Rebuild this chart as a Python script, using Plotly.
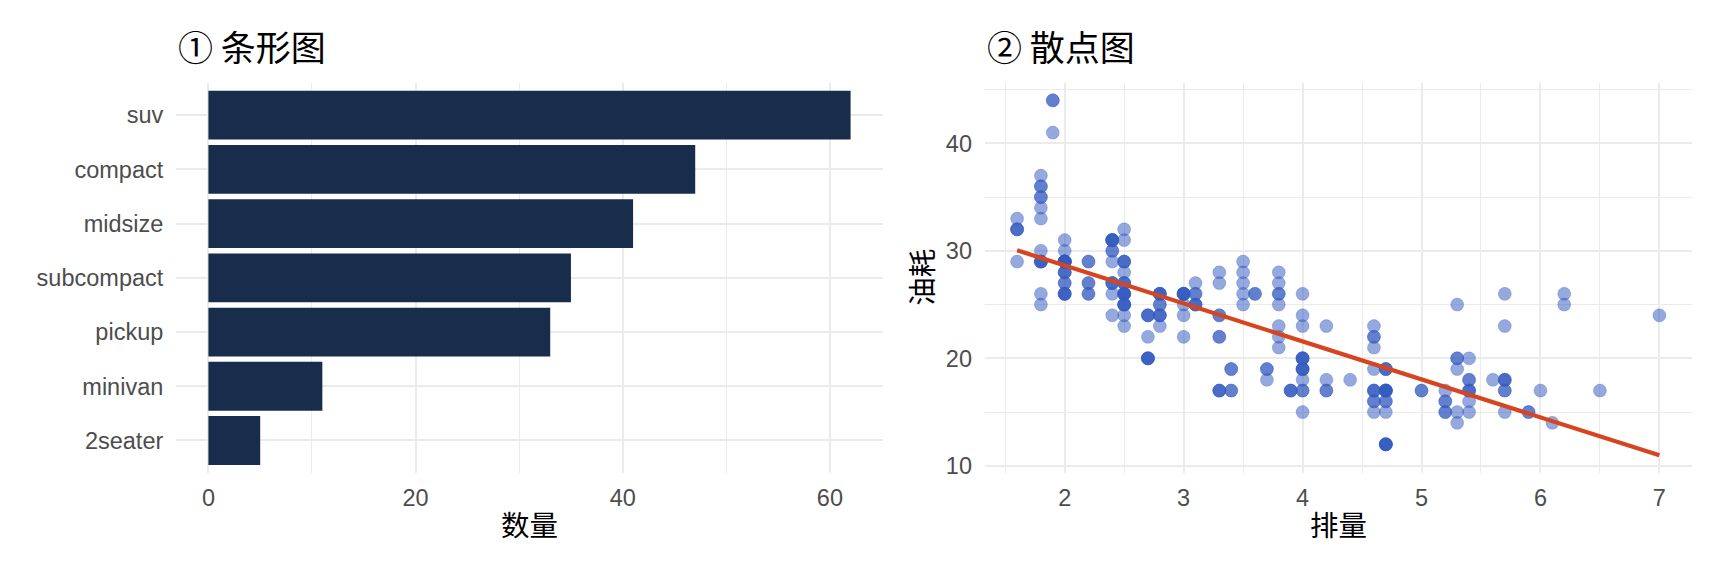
import plotly.graph_objects as go

# bar panel: counts per vehicle class
classes = ["suv", "compact", "midsize", "subcompact", "pickup", "minivan", "2seater"]
counts = [62, 47, 41, 35, 33, 11, 5]
bar_ticks = [0, 20, 40, 60]

# scatter panel: engine displacement vs highway mileage
displ = [1.8, 1.8, 2.0, 2.0, 2.8, 2.8, 3.1, 1.8, 1.8, 2.0, 2.0, 2.8, 2.8, 3.1, 3.1, 2.8, 3.1, 4.2,
         5.3, 5.3, 5.3, 5.7, 6.0, 5.7, 5.7, 6.2, 6.2, 7.0, 5.3, 5.3, 5.7, 6.5, 2.4, 2.4, 3.1, 3.5, 3.6,
         2.4, 3.0, 3.3, 3.3, 3.3, 3.3, 3.3, 3.8, 3.8, 3.8, 4.0, 3.7, 3.7, 3.9, 3.9, 4.7, 4.7, 4.7, 5.2, 5.2,
         3.9, 4.7, 4.7, 4.7, 5.2, 5.7, 5.9, 4.7, 4.7, 4.7, 4.7, 4.7, 4.7, 5.2, 5.2, 5.7, 5.9,
         4.6, 5.4, 5.4, 4.0, 4.0, 4.0, 4.0, 4.6, 5.0, 4.2, 4.2, 4.6, 4.6, 4.6, 5.4, 5.4,
         3.8, 3.8, 4.0, 4.0, 4.6, 4.6, 4.6, 4.6, 5.4,
         1.6, 1.6, 1.6, 1.6, 1.6, 1.8, 1.8, 1.8, 2.0,
         2.4, 2.4, 2.4, 2.4, 2.5, 2.5, 3.3, 2.0, 2.0, 2.0, 2.0, 2.7, 2.7, 2.7,
         3.0, 3.7, 4.0, 4.7, 4.7, 4.7, 5.7, 6.1, 4.0, 4.2, 4.4, 4.6, 5.4, 5.4, 5.4, 4.0, 4.0, 4.6, 5.0,
         2.4, 2.4, 2.5, 2.5, 3.5, 3.5, 3.0, 3.0, 3.5, 3.3, 3.3, 4.0, 5.6, 3.1, 3.8, 3.8, 3.8, 5.3,
         2.5, 2.5, 2.5, 2.5, 2.5, 2.5, 2.2, 2.2, 2.5, 2.5, 2.5, 2.5, 2.5, 2.5,
         2.7, 2.7, 3.4, 3.4, 4.0, 4.7, 2.2, 2.2, 2.4, 2.4, 3.0, 3.0, 3.5, 2.2, 2.2, 2.4, 2.4, 3.0, 3.0, 3.3,
         1.8, 1.8, 1.8, 1.8, 1.8, 4.7, 5.7, 2.7, 2.7, 2.7, 3.4, 3.4, 4.0, 4.0,
         2.0, 2.0, 2.0, 2.0, 2.8, 1.9, 2.0, 2.0, 2.0, 2.0, 2.5, 2.5, 2.8, 2.8,
         1.9, 1.9, 2.0, 2.0, 2.5, 2.5, 1.8, 1.8, 2.0, 2.0, 2.8, 2.8, 3.6]
hwy = [29, 29, 31, 30, 26, 26, 27, 26, 25, 28, 27, 25, 25, 25, 25, 24, 25, 23,
       20, 15, 20, 17, 17, 26, 23, 26, 25, 24, 19, 14, 15, 17, 27, 30, 26, 29, 26,
       24, 24, 22, 22, 24, 24, 17, 22, 21, 23, 23, 19, 18, 17, 17, 19, 19, 12, 17, 15,
       17, 17, 12, 17, 16, 18, 15, 16, 12, 17, 17, 16, 12, 15, 16, 17, 15,
       17, 17, 18, 19, 17, 19, 19, 17, 17, 17, 17, 16, 16, 17, 15, 17,
       26, 25, 26, 24, 21, 22, 23, 22, 20,
       33, 32, 32, 29, 32, 34, 36, 36, 29,
       26, 27, 30, 31, 26, 26, 28, 26, 29, 28, 27, 24, 24, 24,
       22, 19, 20, 17, 12, 19, 18, 14, 15, 18, 18, 15, 17, 16, 18, 17, 19, 19, 17,
       29, 27, 31, 32, 27, 26, 26, 25, 25, 17, 17, 20, 18, 26, 26, 27, 28, 25,
       25, 24, 27, 25, 26, 23, 26, 26, 26, 26, 25, 27, 25, 27,
       20, 20, 19, 17, 20, 17, 29, 27, 31, 31, 26, 26, 28, 27, 29, 31, 31, 26, 26, 27,
       30, 33, 35, 37, 35, 15, 18, 20, 20, 22, 17, 19, 18, 20,
       29, 26, 29, 29, 24, 44, 29, 26, 29, 29, 29, 29, 23, 24,
       44, 41, 29, 26, 28, 29, 29, 29, 28, 29, 26, 26, 26]

# linear fit, end points
fit_x = [1.6, 7.0]
fit_y = [30.05, 10.98]

W, H = 1728, 576
grid = "#ebebeb"
tick_font = dict(family="Liberation Sans, Arial, sans-serif", size=23.5, color="#4d4d4d")
cjk = "Noto Sans CJK SC, sans-serif"


def px_x(p):
    return p / W


def px_y(p):
    return 1 - p / H


fig = go.Figure()

fig.add_trace(go.Bar(
    x=counts, y=classes, orientation="h", width=0.9,
    marker=dict(color="#182c4c", line=dict(width=0)),
    xaxis="x", yaxis="y", showlegend=False,
))

fig.add_trace(go.Scatter(
    x=displ, y=hwy, mode="markers",
    marker=dict(size=13, color="rgba(52,90,192,0.52)",
                line=dict(width=0.8, color="rgba(52,90,192,0.35)")),
    xaxis="x2", yaxis="y2", showlegend=False,
))

fig.add_trace(go.Scatter(
    x=fit_x, y=fit_y, mode="lines",
    line=dict(color="#d6451f", width=4.2),
    xaxis="x2", yaxis="y2", showlegend=False,
))

top, bottom = 83.5, 478.0
left1, right1 = 176.3, 882.7
left2, right2 = 985.0, 1691.5

axis_common = dict(showline=False, zeroline=False, ticks="", gridcolor=grid,
                   gridwidth=2.2, tickfont=tick_font)

fig.update_layout(
    width=W, height=H,
    margin=dict(l=0, r=0, t=0, b=0),
    paper_bgcolor="white", plot_bgcolor="white",
    xaxis=dict(domain=[px_x(left1), px_x(right1)], anchor="y", range=[-3.1, 65.1],
               tickvals=bar_ticks, ticklabelstandoff=8,
               minor=dict(dtick=10, tick0=0, showgrid=True, gridcolor=grid, gridwidth=1.2),
               **axis_common),
    yaxis=dict(domain=[px_y(bottom), px_y(top)], anchor="x", range=[-0.6, 6.6],
               categoryorder="array", categoryarray=classes[::-1], ticklabelstandoff=12,
               **axis_common),
    xaxis2=dict(domain=[px_x(left2), px_x(right2)], anchor="y2", range=[1.33, 7.27],
                dtick=1, tick0=0, ticklabelstandoff=8,
                minor=dict(dtick=0.5, tick0=0, showgrid=True, gridcolor=grid, gridwidth=1.2),
                **axis_common),
    yaxis2=dict(domain=[px_y(bottom), px_y(top)], anchor="x2", range=[9.33, 45.65],
                dtick=10, tick0=0, ticklabelstandoff=12,
                minor=dict(dtick=5, tick0=0, showgrid=True, gridcolor=grid, gridwidth=1.2),
                **axis_common),
    annotations=[
        dict(text="① 条形图", x=px_x(left1), y=px_y(46), xref="paper", yref="paper",
             xanchor="left", yanchor="middle", showarrow=False,
             font=dict(family=cjk, size=35, color="black")),
        dict(text="② 散点图", x=px_x(left2), y=px_y(46), xref="paper", yref="paper",
             xanchor="left", yanchor="middle", showarrow=False,
             font=dict(family=cjk, size=35, color="black")),
        dict(text="数量", x=px_x((left1 + right1) / 2), y=px_y(529), xref="paper", yref="paper",
             xanchor="center", yanchor="middle", showarrow=False,
             font=dict(family=cjk, size=28.5, color="black")),
        dict(text="排量", x=px_x((left2 + right2) / 2), y=px_y(529), xref="paper", yref="paper",
             xanchor="center", yanchor="middle", showarrow=False,
             font=dict(family=cjk, size=28.5, color="black")),
        dict(text="油耗", x=px_x(921), y=px_y((top + bottom) / 2), xref="paper", yref="paper",
             xanchor="center", yanchor="middle", showarrow=False, textangle=-90,
             font=dict(family=cjk, size=28.5, color="black")),
    ],
)

# drop the browser's default page margin so the figure sits at the window origin
fig.write_html("out.html", config={"displayModeBar": False},
               post_script="document.body.style.margin = '0';")
